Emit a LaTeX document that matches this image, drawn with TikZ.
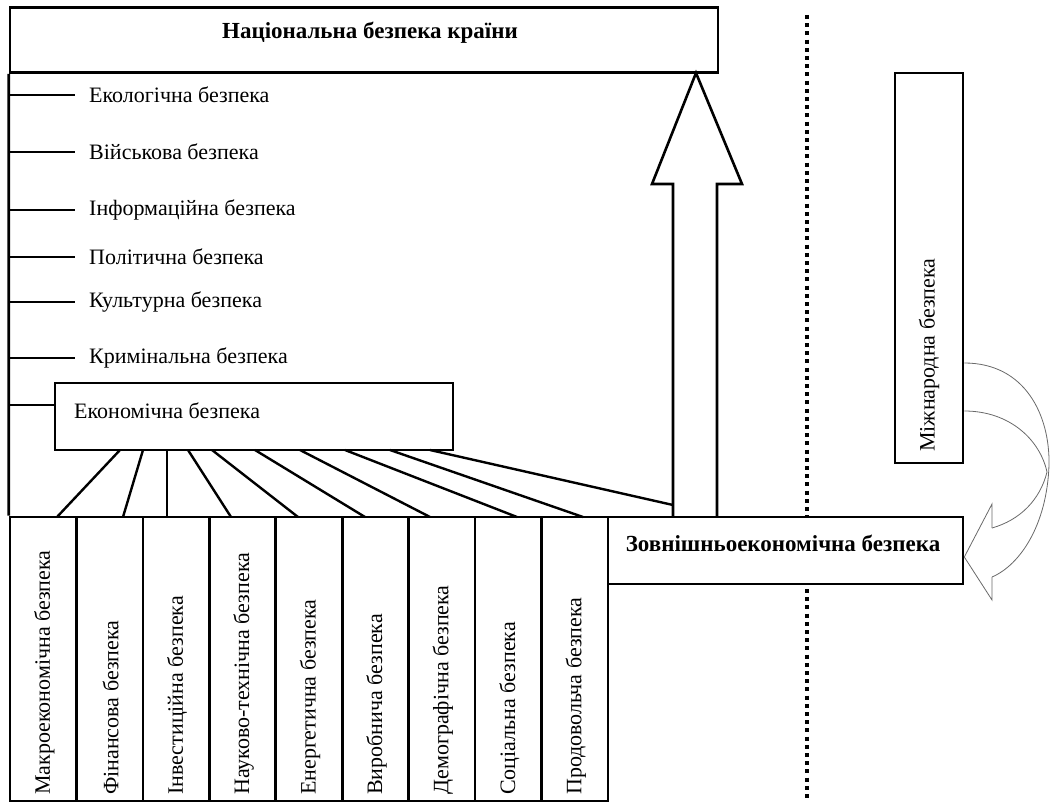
\documentclass[tikz,border=0pt]{standalone}
\usepackage{fontspec}
\setmainfont{Liberation Serif}
\usepackage{tikz}
\usetikzlibrary{positioning,calc}

\begin{document}
\begin{tikzpicture}[x=1pt,y=-1pt]
	\definecolor{bendgray}{RGB}{105,105,105}
	\tikzset{
		box/.style={
			draw=black, fill=white, line width=2.6pt,
			inner sep=0pt
		},
		lab/.style={
			anchor=west, inner sep=0pt,
			font=\fontsize{22}{25}\selectfont
		},
		vlab/.style={
			rotate=90, anchor=west, inner sep=0pt,
			font=\fontsize{22}{25}\selectfont
		},
		ttl/.style={
			inner sep=0pt, font=\fontsize{23}{26}\selectfont\bfseries
		},
		tick/.style={draw=black, line width=2.6pt},
		fan/.style={draw=black, line width=2.4pt},
		dotln/.style={
			draw=black, line width=4pt,
			dash pattern=on 4pt off 4.2pt
		},
		bendarr/.style={draw=bendgray, line width=0.8pt}
	}
	\useasboundingbox (0,0) rectangle (1051,805);
	
	% ======= Межа: пунктир =======
	\draw[dotln] (807,15) -- (807,800);
	
	% ======= Національна безпека =======
	\node[box, minimum width=708, minimum height=65] (nat) at (364,40) {};
	\node[ttl] (natt) at (370,33) {Національна безпека країни};
	
	% ======= Нижній ряд: складові економічної безпеки =======
	\foreach \i/\txt in {1/Макроекономічна безпека, 2/Фінансова безпека,
		3/Інвестиційна безпека, 4/Науково-технічна безпека,
		5/Енергетична безпека, 6/Виробнича безпека,
		7/Демографічна безпека, 8/Соціальна безпека,
		9/Продовольча безпека}{
		\node[box, minimum width=66.4, minimum height=284]
			(b\i) at ({10+66.45*(\i-0.5)},659) {};
		\node[vlab] (v\i) at ({11+66.45*(\i-0.5)},795) {\txt};
	}
	
	\draw[tick] (nat.south west) -- (b1.north west);
	
	% ======= Інші види безпеки =======
	\foreach \i/\y/\txt in {1/95/Екологічна безпека, 2/152/Військова безпека,
		3/210/Інформаційна безпека, 4/257/Політична безпека,
		5/302/Культурна безпека, 6/358/Кримінальна безпека}{
		\coordinate (k\i) at (10,\y);
		\node[lab] (l\i) at (89,\y) {\txt};
		\draw[tick] (k\i) -- ([xshift=-14pt]l\i.west);
	}
	
	% ======= Економічна безпека =======
	\node[box, minimum width=398, minimum height=67] (econ) at (254,416.5) {};
	\node[lab] (econt) at (74,411) {Економічна безпека};
	\coordinate (k7) at (10,405);
	\draw[tick] (k7) -- (k7 -| econ.west);
	
	% ======= Велика стрілка вгору =======
	\coordinate (aw) at (673,505);
	\draw[box] (673,517) -- (673,184) -- (652,184) -- (696,73)
		-- (742,184) -- (717,184) -- (717,517);
	
	\foreach \i/\xt/\xb in {1/120/57, 2/143/123, 3/167/167, 4/188/231,
		5/212/298, 6/255/365, 7/300/430, 8/345/517, 9/390/583}{
		\coordinate (ft\i) at (\xt,450);
		\coordinate (fb\i) at (\xb,517);
		\draw[fan] (ft\i) -- (fb\i);
	}
	\coordinate (ft10) at (430,450);
	\draw[fan] (ft10) -- (aw);
	
	% ======= Зовнішньоекономічна безпека =======
	\node[box, minimum width=355, minimum height=67] (zov) at (785.5,550.5) {};
	\node[ttl] (zovt) at (783,543) {Зовнішньоекономічна безпека};
	
	% ======= Міжнародна безпека =======
	\node[box, minimum width=68, minimum height=390] (mizh) at (929,268) {};
	\node[vlab] (mizht) at (929,452) {Міжнародна безпека};
	
	% ======= Вигнута стрілка =======
	\coordinate (m1) at (mizh.east |- 0,363);
	\coordinate (m2) at (mizh.east |- 0,411);
	\coordinate (n1) at (992,528);
	\coordinate (n2) at (992,577);
	\draw[bendarr] (m1) .. controls (1025,363) and (1050,415) .. (1049,465)
		.. controls (1047,525) and (1020,565) .. (n2);
	\draw[bendarr] (m2) .. controls (1010,411) and (1040,440) .. (1047,472)
		.. controls (1040,500) and (1020,520) .. (n1);
	\draw[bendarr] (n1) -- (992,504) -- (zov.east |- 0,557) -- (992,600) -- (n2);
\end{tikzpicture}
\end{document}
